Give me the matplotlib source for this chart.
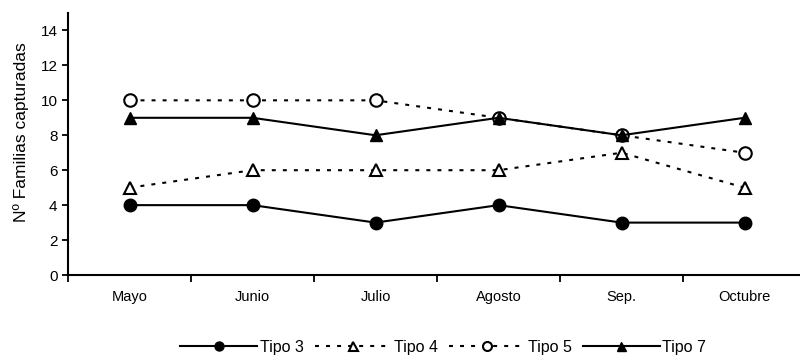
import matplotlib
matplotlib.use("Agg")
import matplotlib.pyplot as plt

plt.rcParams['font.family'] = ['Liberation Sans', 'DejaVu Sans']

meses = ["Mayo", "Junio", "Julio", "Agosto", "Sep.", "Octubre"]
tipo3 = [4, 4, 3, 4, 3, 3]
tipo4 = [5, 6, 6, 6, 7, 5]
tipo5 = [10, 10, 10, 9, 8, 7]
tipo7 = [9, 9, 8, 9, 8, 9]

fig = plt.figure(figsize=(8, 3.56), dpi=100)
ax = fig.add_axes([0.085, 0.2275, 0.9225, 0.736])

x = range(len(meses))
lw = 1.5
dash = (0, (1.9, 3.4))
ax.plot(x, tipo3, color='black', lw=lw, marker='o', ms=9, mfc='black', label='Tipo 3', zorder=3)
ax.plot(x, tipo4, color='black', lw=lw, ls=dash, marker='^', ms=9, mfc='white', mew=1.5, label='Tipo 4', zorder=3)
ax.plot(x, tipo5, color='black', lw=lw, ls=dash, marker='o', ms=9, mfc='white', mew=1.5, label='Tipo 5', zorder=3)
ax.plot(x, tipo7, color='black', lw=lw, marker='^', ms=9, mfc='black', label='Tipo 7', zorder=4)

ax.set_xlim(-0.5, 5.5)
ax.set_ylim(0, 15)
ax.set_yticks(range(0, 15, 2))
ax.set_xticks([i - 0.5 for i in range(7)])
ax.set_xticklabels([])
ax.set_xticks(list(x), minor=True)
ax.set_xticklabels(meses, minor=True, fontsize=10.5)
ax.tick_params(axis='x', which='minor', length=0, pad=11)
ax.tick_params(axis='x', which='major', length=5, width=1.3, direction='out')
ax.tick_params(axis='y', length=4, width=1.3, labelsize=11)
ax.spines['top'].set_visible(False)
ax.spines['right'].set_visible(False)
ax.spines['left'].set_linewidth(1.5)
ax.spines['bottom'].set_linewidth(1.5)
ax.set_ylabel("Nº Familias capturadas", fontsize=12.5)
ax.yaxis.set_label_coords(-0.053, 0.546)

fig.legend(loc='center', bbox_to_anchor=(0.554, 0.025), ncol=4, frameon=False,
           fontsize=11.5, handlelength=4.8, handletextpad=0.15, columnspacing=0.7,
           markerscale=0.72)

fig.savefig("out.png", dpi=100)
